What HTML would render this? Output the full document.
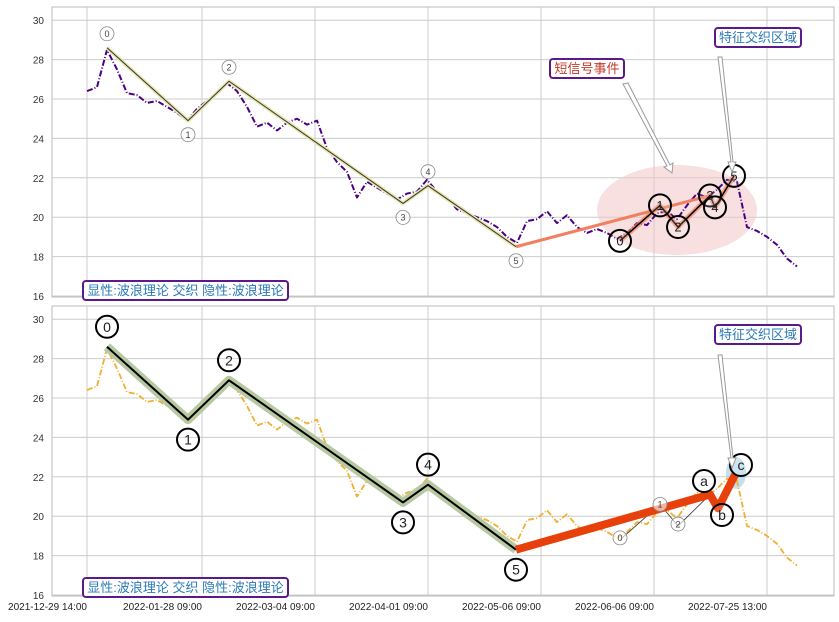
<!DOCTYPE html>
<html><head><meta charset="utf-8"><style>
body{margin:0;background:#fff;width:839px;height:617px;overflow:hidden;font-family:"Liberation Sans","Noto Sans CJK SC",sans-serif}
svg text{font-family:"Liberation Sans","Noto Sans CJK SC",sans-serif}
</style></head><body>
<svg id="c" width="839" height="617"></svg>
<script>
const prices=[26.4,26.6,28.5,27.5,26.3,26.2,25.8,25.9,25.6,25.3,24.9,25.5,25.9,26.3,26.8,26.4,25.6,24.6,24.8,24.4,24.8,25.0,24.7,24.9,23.5,22.8,22.3,21.0,21.8,21.5,21.2,20.9,21.2,21.3,21.9,21.3,21.0,20.4,20.2,20.0,19.8,19.5,19.0,18.7,19.8,19.9,20.3,19.7,20.1,19.5,19.2,19.4,19.2,18.9,19.2,19.7,19.6,20.2,20.3,19.9,20.6,21.2,21.0,21.4,21.9,21.8,19.5,19.3,19.0,18.6,17.9,17.5];
const waveIdx=[2,10.1,14.2,31.6,34.1,42.9];
const waveVal=[28.6,24.9,26.9,20.7,21.6,18.5];
const waveLbl=["0","1","2","3","4","5"];
const shortIdx=[53.3,57.3,59.1,62.3,62.8,64.7];
const shortVal=[18.8,20.6,19.5,21.1,20.5,22.1];
const abcIdx=[42.9,62.3,63.1,64.8];
const abcVal=[18.3,21.1,20.4,22.1];
const yTicks=[16,18,20,22,24,26,28,30];
const xTickLabels=["2021-12-29 14:00","2022-01-28 09:00","2022-03-04 09:00","2022-04-01 09:00","2022-05-06 09:00","2022-06-06 09:00","2022-07-25 13:00"];
const xTickIdx=[0,11.5,22.8,34.1,45.4,56.7,68];

const svg=document.getElementById('c');const NS='http://www.w3.org/2000/svg';
function mk(t,a,p,name,txt){const e=document.createElementNS(NS,t);for(const k in a)e.setAttribute(k,a[k]);


if(txt!==undefined)e.textContent=txt;(p||svg).appendChild(e);return e;}
const X=i=>87+i*10;
function panel(top,bot,name){
  const Y=v=>bot-(v-16)*19.7;
  const g=mk('g',{},svg,name);
  mk('rect',{x:52,y:top,width:782,height:bot-top+1,fill:'#fff',stroke:'#bbb'},g,'plot-area');
  yTicks.forEach(v=>{if(Y(v)<top)return;mk('line',{x1:52,x2:834,y1:Y(v),y2:Y(v),stroke:'#ccc'},g,'y-gridline');
    mk('text',{x:44,y:Y(v)+4,'font-size':10,'text-anchor':'end',fill:'#333'},g,'y-tick-label',v);});
  xTickIdx.forEach(i=>mk('line',{x1:X(i),x2:X(i),y1:top,y2:bot,stroke:'#ccc'},g,'x-gridline'));
  return {g,Y};
}
function poly(g,idx,val,Y,st,name){mk('polyline',Object.assign({points:idx.map((i,k)=>X(i)+','+Y(val[k])).join(' '),fill:'none','stroke-linejoin':'round'},st),g,name);}
function circ(g,x,y,r,lbl,sw,fs,name){mk('circle',{cx:x,cy:y,r:r,fill:'#fff','fill-opacity':sw>1?0.15:0.6,stroke:sw>1?'#000':'#888','stroke-width':sw},g,name);
  mk('text',{x:x,y:y+fs*0.36,'font-size':fs,'text-anchor':'middle',fill:sw>1?'#222':'#444'},g,name+'-label',lbl);}
function boxText(g,x,y,w,t,col,name){mk('rect',{x:x,y:y,width:w,height:19,rx:3,fill:'#fff',stroke:'#5b1a8a','stroke-width':2},g,name+'-box');
  mk('text',{x:x+w/2,y:y+14,'font-size':13,'text-anchor':'middle',fill:col},g,name,t);}
const idxAll=prices.map((_,i)=>i);
// top
let P=panel(7,296,'top-panel');let g=P.g,Y=P.Y;
mk('ellipse',{cx:677,cy:210,rx:80,ry:45,fill:'#f2c6c6','fill-opacity':0.55},g,'short-signal-zone');
poly(g,idxAll,prices,Y,{stroke:'#4b0082','stroke-width':2,'stroke-dasharray':'6,2,1,2'},'price-line');
poly(g,waveIdx,waveVal,Y,{stroke:'#e8e8b0','stroke-width':4},'wave-halo');
poly(g,waveIdx,waveVal,Y,{stroke:'#333','stroke-width':1},'wave-line');
mk('line',{x1:X(42.9),y1:Y(18.5),x2:X(62.3),y2:Y(21.1),stroke:'#f08060','stroke-width':3},g,'trend-line');
poly(g,shortIdx,shortVal,Y,{stroke:'#f08060','stroke-width':5,'stroke-opacity':0.7},'short-wave-halo');
poly(g,shortIdx,shortVal,Y,{stroke:'#000','stroke-width':1.5},'short-wave-line');
waveIdx.forEach((i,k)=>circ(g,X(i),Y(waveVal[k])+(k%2?1:-1)*14,7,waveLbl[k],0.8,9,'wave-marker'));
shortIdx.forEach((i,k)=>circ(g,X(i),Y(shortVal[k]),11,waveLbl[k],2,13,'short-marker'));
mk('polygon',{points:'623,84 628,83 670,165 673,163 672,173 664,167 667,166',fill:'#fff',stroke:'#999'},g,'arrow');
mk('polygon',{points:'718,57 722,57 733,162 736,162 732,172 728,162 731,162',fill:'#fff',stroke:'#999'},g,'arrow');
boxText(g,550,59,74,'短信号事件','#c0392b','short-signal-annotation');
boxText(g,715,28,86,'特征交织区域','#2a7ab8','feature-zone-annotation');
boxText(g,83,281,205,'显性:波浪理论 交织 隐性:波浪理论','#2a7ab8','panel-title');
// bottom
P=panel(306,595,'bottom-panel');g=P.g;Y=P.Y;
mk('ellipse',{cx:736,cy:Y(22.2),rx:10,ry:16,fill:'#9ecae1','fill-opacity':0.6},g,'feature-zone');
poly(g,idxAll,prices,Y,{stroke:'#f0b030','stroke-width':1.8,'stroke-dasharray':'6,2,1,2'},'price-line');
const bw=waveVal.map((v,k)=>k==5?18.3:v);
poly(g,waveIdx,bw,Y,{stroke:'#b8c8a0','stroke-width':9},'wave-halo');
poly(g,waveIdx,bw,Y,{stroke:'#000','stroke-width':2},'wave-line');
poly(g,shortIdx.slice(0,4),shortVal.slice(0,4),Y,{stroke:'#333','stroke-width':0.8},'sub-wave-line');
poly(g,abcIdx,abcVal,Y,{stroke:'#e8400a','stroke-width':8},'abc-wave');
waveIdx.forEach((i,k)=>circ(g,X(i),Y(bw[k])+(k%2?1:-1)*20,11,waveLbl[k],2,14,'wave-marker'));
[0,1,2].forEach(k=>circ(g,X(shortIdx[k]),Y(shortVal[k])+(k==1?0:-2),7,waveLbl[k],0.8,9,'sub-wave-marker'));
circ(g,704,481,11,'a',2,14,'a-marker');circ(g,722,515,11,'b',2,14,'b-marker');circ(g,741,465,11,'c',2,14,'c-marker');
mk('polygon',{points:'718,355 722,355 733,458 736,458 732,468 728,458 731,458',fill:'#fff',stroke:'#999'},g,'arrow');
boxText(g,715,325,86,'特征交织区域','#2a7ab8','feature-zone-annotation');
boxText(g,83,578,205,'显性:波浪理论 交织 隐性:波浪理论','#2a7ab8','panel-title');
xTickIdx.forEach((i,k)=>mk('text',{x:X(i),y:610,'font-size':10,'text-anchor':'end',fill:'#222'},svg,'x-tick-label',xTickLabels[k]));
</script>
</body></html>
